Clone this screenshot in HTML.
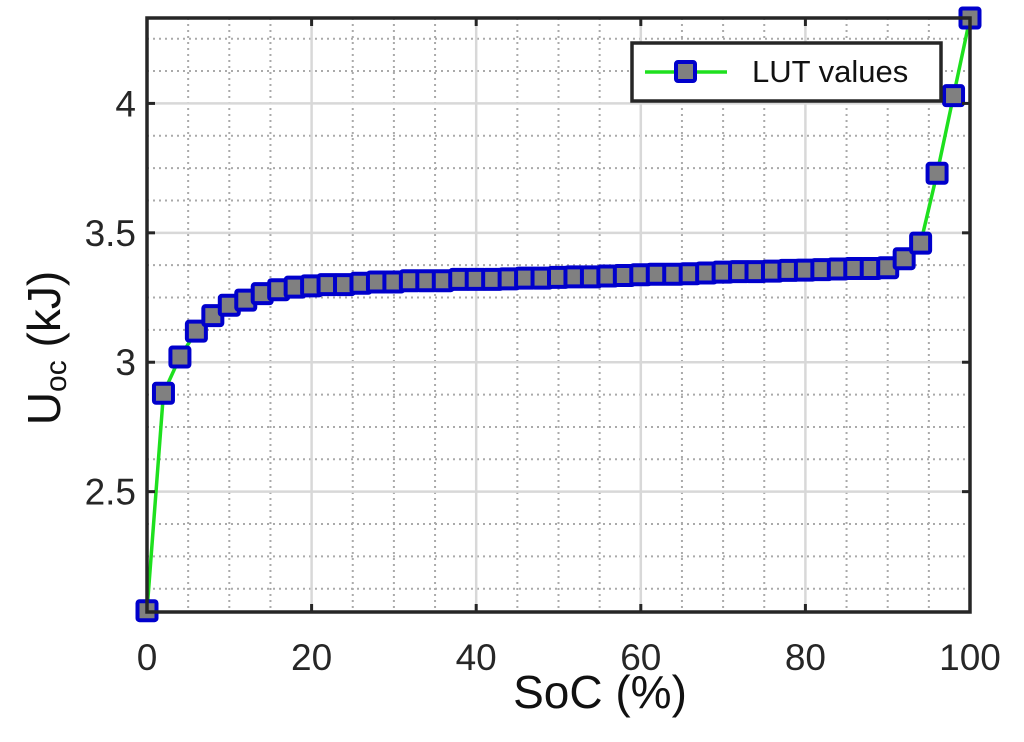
<!DOCTYPE html>
<html><head><meta charset="utf-8"><style>
html,body{margin:0;padding:0;background:#fff;}
svg{display:block;font-family:"Liberation Sans",Arial,sans-serif;}
</style></head><body>
<svg id="chart" width="1024" height="742" viewBox="0 0 1024 742" xmlns="http://www.w3.org/2000/svg">
<g id="grid"></g>
<g id="series"></g>
<g id="axes"></g>
<g>
  <rect x="632" y="43" width="309" height="58" fill="#fff" stroke="#262626" stroke-width="3.5"/>
  <line x1="645" y1="72" x2="727" y2="72" stroke="#1ee01e" stroke-width="3.5"/>
  <rect x="676" y="62" width="19" height="19" fill="#808080" stroke="#0000cc" stroke-width="4" rx="2"/>
  <text x="752" y="82" font-size="31" fill="#111">LUT values</text>
</g>
<text x="600" y="708" font-size="46" text-anchor="middle" fill="#111">SoC (%)</text>
<text transform="translate(60,348) rotate(-90)" font-size="46" text-anchor="middle" fill="#111">U<tspan font-size="30" dy="6">oc</tspan><tspan dy="-6"> (kJ)</tspan></text>
</svg>
<script>
const soc = [0,2,4,6,8,10,12,14,16,18,20,22,24,26,28,30,32,34,36,38,40,42,44,46,48,50,52,54,56,58,60,62,64,66,68,70,72,74,76,78,80,82,84,86,88,90,92,94,96,98,100];
const uoc = [2.04,2.88,3.02,3.12,3.18,3.22,3.24,3.265,3.28,3.29,3.295,3.30,3.30,3.305,3.31,3.31,3.315,3.315,3.315,3.32,3.32,3.32,3.322,3.325,3.325,3.328,3.33,3.33,3.333,3.335,3.338,3.34,3.34,3.342,3.345,3.348,3.35,3.35,3.352,3.355,3.356,3.358,3.36,3.362,3.362,3.365,3.40,3.46,3.73,4.03,4.33];
const xTicks = [0,20,40,60,80,100];
const yTicks = [2.5,3,3.5,4];
const yTickLabels = ["2.5","3","3.5","4"];
const X0=147,X1=970,Y0=612,Y1=18,XMIN=0,XMAX=100,YMIN=2.035,YMAX=4.33;
const sx=v=>X0+(v-XMIN)/(XMAX-XMIN)*(X1-X0);
const sy=v=>Y0-(v-YMIN)/(YMAX-YMIN)*(Y0-Y1);
const NS="http://www.w3.org/2000/svg";
function mk(tag,attrs,parent){const e=document.createElementNS(NS,tag);for(const k in attrs)e.setAttribute(k,attrs[k]);parent.appendChild(e);return e;}
const grid=document.getElementById('grid'),series=document.getElementById('series'),axes=document.getElementById('axes');
for(let v=5;v<100;v+=5){if(v%20===0)continue;const l=mk('line',{x1:sx(v),x2:sx(v),y1:Y1,y2:Y0,stroke:'#aaa','stroke-width':2,'stroke-dasharray':'2 4'},grid);

}
for(let v=2.125;v<YMAX;v+=0.125){if(Math.abs(v*2-Math.round(v*2))<1e-6)continue;const l=mk('line',{x1:X0,x2:X1,y1:sy(v),y2:sy(v),stroke:'#aaa','stroke-width':2,'stroke-dasharray':'2 4'},grid);

}
xTicks.forEach(t=>{if(t===0||t===100)return;const l=mk('line',{x1:sx(t),x2:sx(t),y1:Y1,y2:Y0,stroke:'#d8d8d8','stroke-width':2.5},grid);

});
yTicks.forEach(t=>{const l=mk('line',{x1:X0,x2:X1,y1:sy(t),y2:sy(t),stroke:'#d8d8d8','stroke-width':2.5},grid);

});
const box=mk('rect',{x:X0,y:Y1,width:X1-X0,height:Y0-Y1,fill:'none',stroke:'#262626','stroke-width':3.5},axes);


xTicks.forEach(t=>{
  mk('line',{x1:sx(t),x2:sx(t),y1:Y0,y2:Y0-8,stroke:'#262626','stroke-width':3},axes);
  mk('line',{x1:sx(t),x2:sx(t),y1:Y1,y2:Y1+8,stroke:'#262626','stroke-width':3},axes);
  const tx=mk('text',{x:sx(t),y:670,'font-size':37,'text-anchor':'middle',fill:'#262626'},axes);tx.textContent=t;
  
  
});
yTicks.forEach((t,i)=>{
  mk('line',{x1:X0,x2:X0+8,y1:sy(t),y2:sy(t),stroke:'#262626','stroke-width':3},axes);
  mk('line',{x1:X1,x2:X1-8,y1:sy(t),y2:sy(t),stroke:'#262626','stroke-width':3},axes);
  const tx=mk('text',{x:136,y:sy(t)+13,'font-size':37,'text-anchor':'end',fill:'#262626'},axes);tx.textContent=yTickLabels[i];
  
  
});
const pl=mk('polyline',{points:soc.map((s,i)=>sx(s)+','+sy(uoc[i])).join(' '),fill:'none',stroke:'#1ee01e','stroke-width':3.5},series);


soc.forEach((s,i)=>{const r=mk('rect',{x:sx(s)-9.5,y:sy(uoc[i])-9.5,width:19,height:19,rx:2,fill:'#808080',stroke:'#0000cc','stroke-width':4},series);

});
</script>
</body></html>
